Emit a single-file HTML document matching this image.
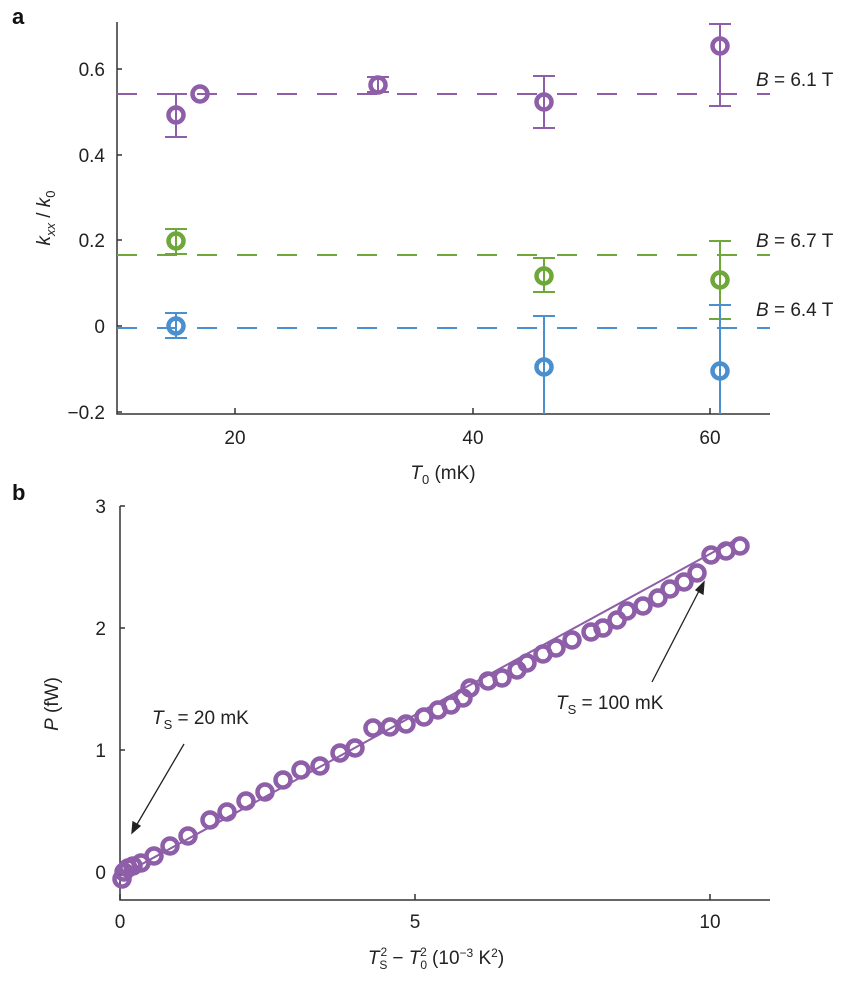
<!DOCTYPE html>
<html><head><style>
body{margin:0;background:#fff;}
svg{display:block;font-family:"Liberation Sans",Arial,sans-serif;}
</style></head><body>
<svg width="868" height="986" viewBox="0 0 868 986" xmlns="http://www.w3.org/2000/svg">
<g font-size="22" fill="#111">
<text x="12" y="24" font-weight="900">a</text>
<text x="12" y="500" font-weight="900">b</text>
</g>
<!-- Panel a axes -->
<g stroke="#333" stroke-width="1.5" fill="none">
<path d="M117 22 V414 H770"/>
<path d="M117 69h5M117 155h5M117 240h5M117 326h5M117 412h5"/>
<path d="M235 414v-6M473 414v-6M710 414v-6"/>
</g>
<g font-size="19" fill="#222" text-anchor="end">
<text x="105" y="76">0.6</text>
<text x="105" y="162">0.4</text>
<text x="105" y="247">0.2</text>
<text x="105" y="333">0</text>
<text x="105" y="419">−0.2</text>
</g>
<g font-size="19" fill="#222" text-anchor="middle">
<text x="235" y="444">20</text><text x="473" y="444">40</text><text x="710" y="444">60</text>
<text x="443" y="479"><tspan font-style="italic">T</tspan><tspan font-size="13" dy="5">0</tspan><tspan dy="-5"> (mK)</tspan></text>
</g>
<text transform="translate(50,218) rotate(-90)" font-size="19" fill="#222" text-anchor="middle"><tspan font-style="italic">k</tspan><tspan font-style="italic" font-size="13" dy="5">xx</tspan><tspan dy="-5"> / </tspan><tspan font-style="italic">k</tspan><tspan font-size="13" dy="5">0</tspan></text>
<!-- dashed lines -->
<g stroke-width="2" stroke-dasharray="20,20" fill="none">
<path d="M117 94H770" stroke="#8e5ea9"/>
<path d="M117 255H770" stroke="#6fa83a"/>
<path d="M117 328H770" stroke="#4a90cf"/>
</g>
<g font-size="19" fill="#222">
<text x="756" y="86"><tspan font-style="italic">B</tspan> = 6.1 T</text>
<text x="756" y="247"><tspan font-style="italic">B</tspan> = 6.7 T</text>
<text x="756" y="316"><tspan font-style="italic">B</tspan> = 6.4 T</text>
</g>
<!-- error bars and markers -->
<g stroke-width="2" fill="none">
<g stroke="#8e5ea9">
<path d="M176 94V137M165 94h22M165 137h22"/>
<path d="M378 77V92M367 77h22M367 92h22"/>
<path d="M544 76V128M533 76h22M533 128h22"/>
<path d="M720 24V106M709 24h22M709 106h22"/>
</g>
<g stroke="#6fa83a">
<path d="M176 229V254M165 229h22M165 254h22"/>
<path d="M544 258V292M533 258h22M533 292h22"/>
<path d="M720 241V319M709 241h22M709 319h22"/>
</g>
<g stroke="#4a90cf">
<path d="M176 313V338M165 313h22M165 338h22"/>
<path d="M544 316V414M533 316h22"/>
<path d="M720 305V414M709 305h22"/>
</g>
</g>
<g stroke-width="4.5" fill="none">
<g stroke="#8e5ea9">
<circle cx="176" cy="115" r="7.5"/><circle cx="200" cy="94" r="7.5"/><circle cx="378" cy="85" r="7.5"/><circle cx="544" cy="102" r="7.5"/><circle cx="720" cy="46" r="7.5"/>
</g>
<g stroke="#6fa83a">
<circle cx="176" cy="241" r="7.5"/><circle cx="544" cy="276" r="7.5"/><circle cx="720" cy="280" r="7.5"/>
</g>
<g stroke="#4a90cf">
<circle cx="176" cy="326" r="7.5"/><circle cx="544" cy="367" r="7.5"/><circle cx="720" cy="371" r="7.5"/>
</g>
</g>
<!-- Panel b axes -->
<g stroke="#333" stroke-width="1.5" fill="none">
<path d="M120 506 V900 H770"/>
<path d="M120 872h5M120 750h5M120 628h5M120 506h5"/>
<path d="M120 900v-6M415 900v-6M710 900v-6"/>
</g>
<g font-size="19" fill="#222" text-anchor="end">
<text x="106" y="879">0</text><text x="106" y="757">1</text><text x="106" y="635">2</text><text x="106" y="513">3</text>
</g>
<g font-size="19" fill="#222" text-anchor="middle">
<text x="120" y="928">0</text><text x="415" y="928">5</text><text x="710" y="928">10</text>
<text x="436" y="964"><tspan font-style="italic">T</tspan><tspan font-size="12" dy="5">S</tspan><tspan font-size="12" dx="-7" dy="-13">2</tspan><tspan dy="8"> − </tspan><tspan font-style="italic">T</tspan><tspan font-size="12" dy="5">0</tspan><tspan font-size="12" dx="-7" dy="-13">2</tspan><tspan dy="8"> (10</tspan><tspan font-size="12" dy="-7">−3</tspan><tspan dy="7"> K</tspan><tspan font-size="12" dy="-7">2</tspan><tspan dy="7">)</tspan></text>
</g>
<text transform="translate(58,704) rotate(-90)" font-size="19" fill="#222" text-anchor="middle"><tspan font-style="italic">P</tspan> (fW)</text>
<path d="M120 876 L741 537" stroke="#8e5ea9" stroke-width="2"/>
<g stroke="#8e5ea9" stroke-width="4.5" fill="none">
<circle cx="122" cy="879" r="7.5"/><circle cx="124" cy="872" r="7.5"/><circle cx="128" cy="868" r="7.5"/><circle cx="133" cy="866" r="7.5"/><circle cx="141" cy="863" r="7.5"/><circle cx="154" cy="856" r="7.5"/><circle cx="170" cy="846" r="7.5"/><circle cx="188" cy="836" r="7.5"/><circle cx="210" cy="820" r="7.5"/><circle cx="227" cy="812" r="7.5"/><circle cx="246" cy="801" r="7.5"/><circle cx="265" cy="792" r="7.5"/><circle cx="283" cy="780" r="7.5"/><circle cx="301" cy="770" r="7.5"/><circle cx="320" cy="766" r="7.5"/><circle cx="340" cy="753" r="7.5"/><circle cx="355" cy="748" r="7.5"/><circle cx="373" cy="728" r="7.5"/><circle cx="390" cy="727" r="7.5"/><circle cx="406" cy="724" r="7.5"/><circle cx="424" cy="717" r="7.5"/><circle cx="438" cy="710" r="7.5"/><circle cx="451" cy="705" r="7.5"/><circle cx="463" cy="698" r="7.5"/><circle cx="470" cy="688" r="7.5"/><circle cx="488" cy="681" r="7.5"/><circle cx="502" cy="678" r="7.5"/><circle cx="517" cy="670" r="7.5"/><circle cx="527" cy="663" r="7.5"/><circle cx="543" cy="654" r="7.5"/><circle cx="556" cy="648" r="7.5"/><circle cx="572" cy="640" r="7.5"/><circle cx="591" cy="632" r="7.5"/><circle cx="603" cy="628" r="7.5"/><circle cx="617" cy="620" r="7.5"/><circle cx="627" cy="611" r="7.5"/><circle cx="643" cy="606" r="7.5"/><circle cx="658" cy="598" r="7.5"/><circle cx="670" cy="589" r="7.5"/><circle cx="684" cy="582" r="7.5"/><circle cx="697" cy="573" r="7.5"/><circle cx="711" cy="555" r="7.5"/><circle cx="726" cy="551" r="7.5"/><circle cx="740" cy="546" r="7.5"/>
</g>
<!-- annotations -->
<g stroke="#222" stroke-width="1.3" fill="#222">
<path d="M184 744 L136 826" fill="none"/>
<path d="M132 833 L133 822 L140 826 Z"/>
<path d="M652 682 L700 589" fill="none"/>
<path d="M704 582 L703 594 L696 590 Z"/>
</g>
<g font-size="19" fill="#222">
<text x="152" y="724"><tspan font-style="italic">T</tspan><tspan font-size="13" dy="5">S</tspan><tspan dy="-5"> = 20 mK</tspan></text>
<text x="556" y="709"><tspan font-style="italic">T</tspan><tspan font-size="13" dy="5">S</tspan><tspan dy="-5"> = 100 mK</tspan></text>
</g>
</svg>
</body></html>
